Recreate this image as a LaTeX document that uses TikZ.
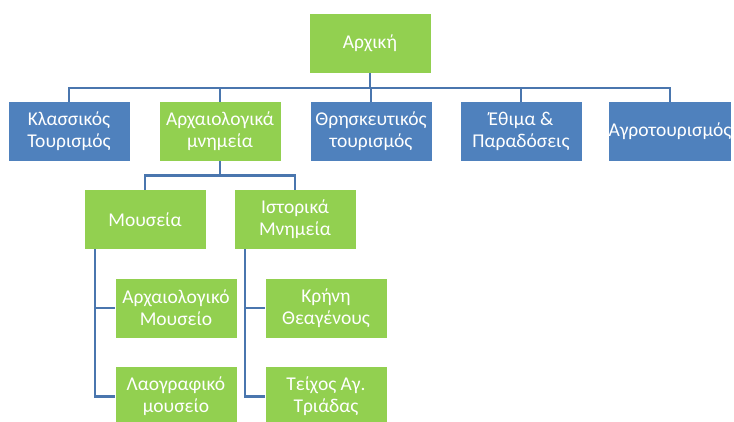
\documentclass[tikz,border=0pt]{standalone}
\usepackage{fontspec}
\setmainfont{Carlito}
\definecolor{bluebox}{HTML}{4F81BD}
\definecolor{greenbox}{HTML}{92D050}
\definecolor{linkline}{HTML}{4A76AE}
\begin{document}
\begin{tikzpicture}[x=1pt,y=-1pt,
  box/.style={draw=none, minimum width=121pt, minimum height=59pt, inner sep=0pt,
    align=center, text=white, font=\fontsize{19.5}{22}\selectfont},
  bbox/.style={box, fill=bluebox},
  gbox/.style={box, fill=greenbox},
  link/.style={draw=linkline, line width=2.2pt}]
\useasboundingbox (0,0) rectangle (734,421);
\fill[white] (0,0) rectangle (734,421);

% top level
\node[gbox] (root) at (370,43.5) {Αρχική};

% second level
\node[bbox] (klass) at (69,131.5) {Κλασσικός\\Τουρισμός};
\node[gbox] (arch)  at (220,131.5) {Αρχαιολογικά\\μνημεία};
\node[bbox] (thr)   at (371,131.5) {Θρησκευτικός\\τουρισμός};
\node[bbox] (ethi)  at (521,131.5) {Έθιμα \&\\Παραδόσεις};
\node[bbox] (agro)  at (670,131.5) {Αγροτουρισμός};

% third level
\node[gbox] (mous) at (145,219.5) {Μουσεία};
\node[gbox] (isto) at (295,219.5) {Ιστορικά\\Μνημεία};

% fourth level
\node[gbox] (archm) at (176,308) {Αρχαιολογικό\\Μουσείο};
\node[gbox] (laog)  at (176,396.5) {Λαογραφικό\\μουσείο};
\node[gbox] (krin)  at (326,308) {Κρήνη\\Θεαγένους};
\node[gbox] (teix)  at (326,396.5) {Τείχος Αγ.\\Τριάδας};

% connectors from the root
\coordinate (busA) at (0,88);
\foreach \n in {klass,arch,thr,ethi,agro}
  \draw[link] (root.south) -- (root.south |- busA) -| (\n.north);

% connectors below the archaeology box
\coordinate (busB) at (0,175.5);
\foreach \n in {mous,isto}
  \draw[link] (arch.south) -- (arch.south |- busB) -| (\n.north);

% side connectors for the leaf boxes
\draw[link] ([xshift=-50pt]mous.south) |- (archm.west);
\draw[link] ([xshift=-50pt]mous.south) |- (laog.west);
\draw[link] ([xshift=-50pt]isto.south) |- (krin.west);
\draw[link] ([xshift=-50pt]isto.south) |- (teix.west);
\end{tikzpicture}
\end{document}
